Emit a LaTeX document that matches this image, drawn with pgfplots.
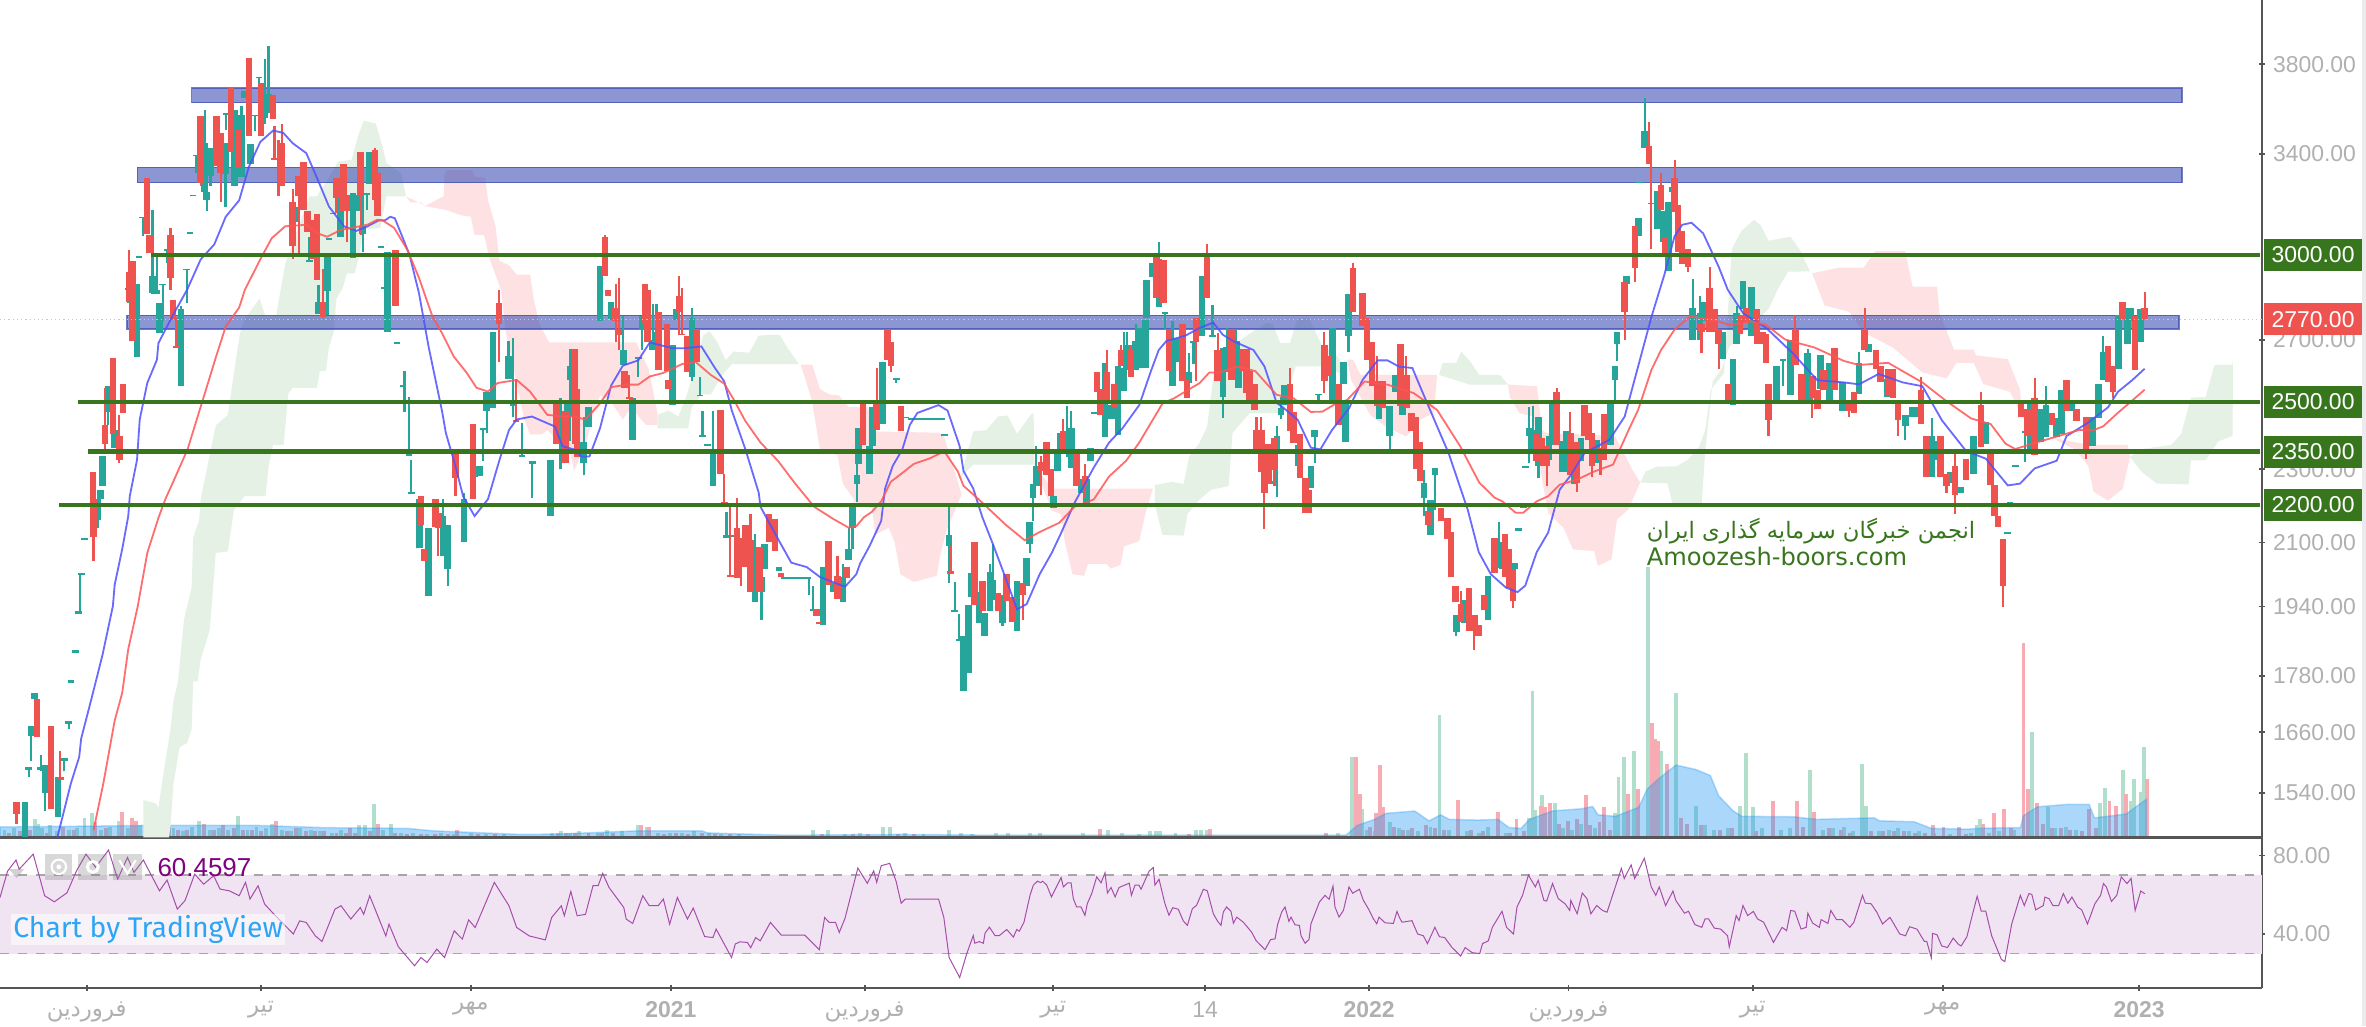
\documentclass[border=0pt]{standalone}
\usepackage{fontspec}
\usepackage{pgfplots}
\usepackage{pgfplotstable}
\pgfplotsset{compat=1.18}
\setmainfont{Liberation Sans}
\newfontfamily\arabicfont[Script=Arabic]{DejaVu Sans}
\newfontfamily\wmfont{DejaVu Sans}
\newfontfamily\tvfont{Fira Sans}
\TeXXeTstate=1
\definecolor{cgreen}{HTML}{26A69A}
\definecolor{cred}{HTML}{EF5350}
\definecolor{gline}{HTML}{38761D}
\definecolor{bandc}{HTML}{3F51B5}
\definecolor{cloudg}{HTML}{E6F1E6}
\definecolor{cloudr}{HTML}{FDE1E3}
\definecolor{volg}{HTML}{B2DFCB}
\definecolor{volr}{HTML}{F8ABB2}
\definecolor{volma}{HTML}{2196F3}
\definecolor{tickgray}{HTML}{B0B0B0}
\definecolor{axisgray}{HTML}{555555}
\definecolor{rsic}{HTML}{A64DAB}
\definecolor{rsifill}{HTML}{F0E4F2}
\definecolor{maB}{HTML}{5050FF}
\definecolor{maR}{HTML}{FF5555}
\definecolor{tvblue}{HTML}{2DA5F5}
\definecolor{rsitxt}{HTML}{800080}

% candle bodies: x top bot
\pgfplotstableread{
x top bot
16.5 1523 1458
19 1590 1584
20.5 1672 1653
23 1743 1730
27 1590 1583
30 1593 1540
38.5 1570 1495
42.6 1608 1602
45.6 1683 1677
47 1770 1764
50 1838 1832
52 1928 1923
54 2022 2017
56 2112 2106
65 2216 2160
66.4 2240 2216
68 2339 2253
71.5 2549 2469
76 2414 2362
85 2879 2873
90.8 2895 2642
92 2996 2990
94.6 3146 3140
101 2921 2862
104 2873 2857
105.5 2826 2722
107.8 2895 2889
110.6 3022 3016
120 2805 2551
123.8 2949 2943
126 3085 3079
128 3232 3226
130 3396 3390
135.7 3445 3244
137 3244 3210
139.5 3426 3306
149.4 3445 3318
150 3576 3570
155.5 3590 3268
160 3570 3303
162 3678 3644
166 3442 3358
169 3570 3564
171.7 3740 3734
175.5 3664 3556
178 3664 3576
196 3185 3126
205 2980 2975
211 2831 2788
217 2994 2868
218 3062 3056
220.6 3161 3155
225.7 3226 3068
234 3238 2988
237 3232 3167
240.4 3108 3078
243 3238 3232
245 3406 3275
252.4 3033 3027
255 2881 2875
256.7 3011 2727
263 2691 2685
267 2554 2548
271 2343 2337
272.5 2237 2231
278 2216 2085
284 2139 1965
293.7 2171 2065
296.7 2145 2033
307.4 2216 2100
314.5 2309 2279
318 2309 2280
320 2419 2413
322.6 2532 2473
326.7 2727 2480
337 2646 2573
340 2506 2488
346 2341 2335
352.8 2322 2316
365 2326 2171
376 2497 2383
378 2613 2568
386.8 2379 2317
390 2485 2423
397.6 2960 2762
405 2831 2768
413 2666 2617
419 2511 2385
423 2644 2638
425.5 2781 2737
432.6 2701 2666
435 2727 2676
445.8 2684 2490
448.3 2806 2768
458.7 2775 2579
464 2522 2517
465.6 2400 2394
469 2374 2368
472.4 2346 2253
481.5 2119 2113
486 2120 2114
500.3 1975 1950
504.6 2012 1975
506.6 2096 2033
516.3 2038 2027
520 2012 2007
524 2012 2007
528 2012 2007
532 2012 2007
535 2012 2007
539 1935 1930
545.5 2038 1895
552 1997 1975
558.6 2012 1950
562.4 2082 2055
565 2195 2139
568 2283 2259
569 2419 2315
576.4 2366 2287
578.2 2483 2366
584.8 2627 2432
594 2575 2570
600 2455 2450
604 2450 2445
608 2450 2445
612 2450 2445
616 2450 2445
620 2450 2445
624 2450 2445
626 2401 2395
629 2120 2092
632.7 1931 1926
635.5 1864 1859
638.5 1870 1747
642 1944 1786
644 2021 1962
648.7 1975 1900
652.5 1925 1870
656 2025 1928
658 2005 1957
664.4 1968 1900
674 2001 1882
680.4 2061 1990
682.4 2155 2096
684.7 2259 2220
686.7 2309 2253
698 2224 2193
700.7 2357 2294
703 2405 2357
707 2392 2348
710 2419 2304
716.4 2272 2233
720 2272 2195
722.7 2362 2323
725 2469 2463
732.4 2622 2392
736.4 2490 2446
741 2614 2398
745 2608 2535
747 2681 2602
752.7 2696 2602
755.7 2739 2607
759 2768 2607
760 2907 2775
763.6 2971 2919
768 2985 2813
772 2794 2788
777 2696 2551
780 2706 2627
788 2593 2560
791 2696 2690
796.5 2921 2712
803.6 2715 2709
810.4 2672 2515
813 2676 2602
819.3 2696 2586
820.6 2597 2544
842.1 2265 2259
846.4 2397 2346
849 2480 2460
851 2554 2491
860.6 2370 2309
868.7 2309 2247
871.3 2414 2392
873.8 2525 2520
883 2740 2506
890.5 2627 2557
891.5 2506 2380
893.6 2857 2714
914 2495 2446
921 2488 2396
924.5 2585 2532
929.6 2515 2460
943.6 2262 2220
948 2215 2120
951 2304 2283
965.1 1919 1879
970.7 1957 1901
986 2015 1907
993.5 2090 2045
995.5 2100 2031
1004 2047 2032
1006.5 2137 2131
1009.5 2199 2193
1010.8 2310 2304
1013.3 2420 2396
1015.8 2414 2348
1019.6 2455 2309
1026.5 2395 2326
1028.5 2502 2370
1035.4 2383 2293
1038 2410 2293
1043 2309 2258
1047.8 2390 2322
1058.4 2385 2317
1067.3 2495 2370
1070.4 2612 2568
1071.6 2725 2686
1078 2921 2895
1086 3142 3069
1086.5 3284 3278
1090 3498 3426
1098.5 3247 3096
1102.4 3167 3050
1105.6 3202 2942
1108 3262 3244
1121.8 2810 2700
1126.7 2790 2700
1129.3 2831 2763
1141.9 2725 2637
1148.4 2637 2490
1151 2790 2686
1155 2906 2805
1160.7 2884 2712
1177.5 2612 2507
1181.7 2637 2631
1186.6 2699 2520
1198 2656 2506
1206.6 2651 2540
1212.5 2624 2507
1221.2 2561 2472
1232 2624 2525
1238.4 2686 2661
1250.7 2573 2515
1262.6 2460 2425
1267.5 2483 2455
1270.7 2483 2455
1280.4 2396 2279
1283.7 2383 2326
1292.7 2291 2260
1299.2 2250 2233
1308 2396 2287
1316 2437 2374
1330.6 2127 2121
1332 2208 2202
1335.5 2311 2305
1342 2410 2405
1345.2 2507 2357
1352.6 2478 2379
1356 2490 2392
1363 2449 2392
1366.2 2538 2403
1372.7 2502 2472
1386.6 2455 2366
1390.5 2555 2449
1393.7 2661 2568
1404 2783 2605
1410 2810 2686
1412.2 2810 2763
1418.4 2805 2693
}\gbody
\pgfplotstableread{
x top bot
11 1523 1500
24.6 1730 1650
33.7 1672 1509
40 1570 1564
61.6 2292 2216
62 2216 2115
69.5 2428 2374
75 2640 2401
79 2396 2326
81.4 2556 2465
85.7 2938 2831
88 2977 2696
97.4 3300 3079
99 3073 3005
113 3073 2916
114.6 2836 2768
117 2679 2673
133 3563 3281
143.3 3563 3350
146.3 3490 3320
153 3688 3406
157.8 3503 3344
165 3828 3477
173 3711 3477
181 3657 3549
182 3382 3376
184.6 3382 3376
187 3448 3268
194 3202 3033
198 3306 3226
201 3365 3173
203.6 3167 3087
207.5 3131 2983
210 3155 2908
214 2831 2778
223 3300 3220
227.5 3358 3167
230 3232 3167
239 3406 3226
248.5 3417 3210
250 3320 3149
262 3017 2817
279 2224 2147
281 2082 2053
288.4 2216 2141
290.4 2179 2139
301.8 2357 2275
313.5 2432 2216
330.7 2826 2752
342 2443 2437
369 2502 2374
374.6 2473 2317
381 2671 2374
382.4 2540 2335
401 3068 2921
403 2873 2852
408 2810 2763
410 2737 2717
414 2598 2544
417 2515 2510
427.5 2895 2752
429 2873 2691
436.4 2794 2602
442 2752 2598
443 2568 2540
450 2850 2794
452 2720 2715
455.4 2714 2593
461.8 2732 2627
477.5 2474 2287
480 2208 2202
484 2017 2012
488.4 2139 2009
491 2112 2053
494 2147 2038
497.3 2106 1975
503.4 2088 1975
509.7 2175 2100
513.5 2162 2078
517.6 2021 2012
541 1933 1916
542.7 1903 1898
549 2104 1993
555 2015 1959
561 2038 2010
572 2506 2371
581 2495 2415
588.3 2737 2632
590.4 2693 2615
597 2488 2410
630 2026 2020
646 2100 1943
651 2001 1928
661.4 1972 1928
667 2019 1953
671 1964 1903
678 1997 1968
690 2319 2294
693.6 2378 2283
696.4 2300 2224
704.5 2411 2357
713.6 2351 2253
719 2280 2255
727 2593 2530
729.3 2540 2461
733.6 2595 2492
738.7 2557 2483
743 2666 2614
749.6 2666 2578
766 2994 2844
771 2981 2826
774.7 2732 2598
783.6 2752 2564
786.6 2568 2511
792.7 2775 2691
800 3005 2842
807 2666 2564
816 2732 2568
823.6 2671 2598
826 2671 2527
828 2598 2506
831.2 2557 2475
832.7 2414 2346
835.8 2414 2293
837.8 2370 2233
840.3 2374 2258
844.7 2390 2298
854.8 2557 2410
857.3 2470 2375
861.6 2401 2275
865 2274 2179
867.5 2242 2179
877.6 2681 2564
880 2646 2580
887 2557 2430
896.6 2951 2796
903 2862 2745
906 2773 2634
909.3 2691 2549
912.6 2564 2486
916.4 2564 2480
928.3 2686 2486
932 2585 2480
935.4 2465 2410
938.5 2455 2300
941 2380 2266
946.6 2183 2147
955 2191 2156
959.3 2165 2110
961.6 2127 2012
964.4 1990 1950
968.2 1946 1903
973.5 1986 1883
977 1919 1883
979.8 1896 1871
984 1968 1932
990.5 2113 2023
997.3 2123 2012
1000 2082 1986
1002.6 2032 1954
1018 2403 2322
1022 2390 2309
1025 2366 2309
1031.6 2532 2370
1040.7 2405 2283
1045 2380 2261
1050 2491 2395
1052.6 2465 2385
1055 2405 2309
1060.7 2362 2326
1063 2464 2326
1076.7 2902 2796
1083.6 3110 2950
1092.7 3435 3358
1094.3 3200 3194
1100.8 3270 3173
1103.4 3062 3003
1109.8 3300 3164
1112 3193 3011
1114.7 3090 2966
1118.6 3023 2955
1127.6 2752 2727
1133.1 2878 2725
1136.4 2805 2725
1139 2732 2686
1145.4 2555 2495
1153.2 2783 2718
1157.4 2810 2758
1164.5 2805 2686
1168 2727 2686
1170.4 2718 2624
1172 2555 2443
1189.8 2732 2617
1194 2588 2495
1201 2580 2513
1204.4 2538 2478
1208.6 2602 2538
1215.7 2674 2538
1225.4 2497 2473
1228.6 2531 2466
1235.8 2738 2667
1243.2 2667 2605
1246.4 2612 2561
1251.3 2605 2520
1254.5 2605 2513
1257.8 2507 2443
1273 2538 2432
1276.5 2396 2279
1286 2396 2279
1290 2287 2253
1295.6 2309 2228
1303 2330 2270
1312.8 2490 2363
1319.3 2358 2254
1321.6 2254 2171
1324 2171 2140
1327.4 2110 1990
1339.4 2507 2455
1343.6 2478 2396
1348.4 2513 2341
1359.8 2466 2428
1369.5 2568 2472
1376 2478 2442
1382.4 2455 2348
1397 2680 2561
1400.2 2612 2530
1406.7 2831 2770
1414.8 2780 2602
1421.3 2810 2770
}\rbody
% wicks: x high low
\pgfplotstableread{
x hi lo
20.5 1672 1601
19 1590 1570
27 1614 1581
30 1593 1505
42.6 1608 1581
45.6 1683 1667
53 2022 1925
65 2216 2139
71.5 2549 2428
85 2879 2826
94.6 3146 3072
101 3172 2857
104 3005 2857
107.8 2895 2763
110.6 3022 2969
120 2815 2551
123.8 2949 2826
130 3396 3320
135.7 3590 3244
137 3244 3167
139.5 3426 3268
149.4 3445 3185
150 3576 3503
160 3610 3303
169 3570 3497
171.7 3740 3576
175.5 3826 3530
178 3887 3576
205 3068 2977
211 2889 2788
217 2994 2783
225.7 3256 3068
240.4 3244 3011
243 3238 3173
268 2598 2469
271 2515 2340
272.5 2326 2234
293.7 2216 2065
296.7 2145 1990
307.4 2233 2100
320 2419 2322
322.6 2532 2405
337 2696 2573
340 2706 2455
346 2435 2338
352.8 2322 2220
371.5 2511 2300
378 2671 2455
386.8 2455 2283
413 2781 2617
423 2644 2579
425.5 2781 2666
432.6 2822 2666
435 2822 2676
458.7 2810 2564
464 2578 2520
465.6 2473 2397
472.4 2473 2253
481.5 2181 2116
500.3 2123 1950
504.6 2012 1907
536 2010 1968
539 1990 1932
558.6 2046 1950
562.4 2139 2055
565 2195 2082
568 2419 2208
594 2575 2560
629 2205 1997
632.7 2000 1928
635.5 1921 1861
656 2046 1928
658 2096 1957
664.4 1968 1893
682.4 2155 2072
684.7 2259 2157
686.7 2366 2253
707 2486 2335
710 2473 2304
745 2727 2535
747 2727 2602
752.7 2752 2602
768 3048 2813
772 2794 2737
777 2765 2551
788 2656 2560
791 2696 2620
803.6 2820 2712
810.4 2672 2451
813 2740 2593
819.3 2732 2586
842.1 2309 2262
846.4 2425 2222
849 2515 2446
871.3 2414 2317
873.8 2525 2497
893.6 2857 2661
921 2488 2352
943.6 2298 2170
951 2304 2187
965.1 1919 1870
993.5 2155 2035
1013.3 2483 2317
1015.8 2488 2348
1019.6 2455 2274
1070.4 2612 2506
1071.6 2725 2629
1090 3643 3426
1121.8 2911 2700
1126.7 2852 2700
1151 2817 2686
1181.7 2637 2549
1198 2671 2506
1232 2661 2525
1262.6 2460 2386
1280.4 2449 2279
1342 2410 2319
1356 2549 2392
1393.7 2712 2568
}\gwick
\pgfplotstableread{
x hi lo
11 1523 1482
40 1622 1564
62 2216 2052
69.5 2544 2352
79 2460 2317
85.7 3018 2831
113 3102 2873
117 2778 2676
133 3563 3268
146.3 3490 3204
182 3520 3381
184.6 3458 3226
187 3530 3268
194 3256 2983
198 3306 2994
214 2949 2773
223 3300 3161
230 3232 3050
239 3406 3073
248.5 3425 3210
290.4 2179 2065
301.8 2357 2224
330.7 2873 2627
342 2573 2440
401 3074 2921
408 2895 2691
410 2916 2666
417 2585 2510
450 2921 2717
452 2878 2717
480 2287 2205
484 2205 2015
488.4 2220 2009
491 2112 1990
497.3 2175 1975
555 2065 1959
581 2608 2415
590.4 2693 2593
630 2092 2023
678 1997 1907
690 2339 2228
704.5 2446 2357
719 2314 2220
733.6 2666 2492
743 2684 2614
749.6 2684 2578
792.7 2775 2564
800 3039 2842
807 2722 2564
832.7 2455 2346
835.8 2455 2293
837.8 2370 2135
844.7 2390 2253
854.8 2607 2410
877.6 2727 2527
896.6 2968 2796
912.6 2646 2486
932 2646 2480
968.2 1979 1903
977 1919 1838
1002.6 2032 1936
1025 2366 2253
1031.6 2544 2370
1040.7 2470 2283
1045 2380 2236
1055 2405 2278
1060.7 2362 2283
1076.7 2902 2701
1083.6 3110 2902
1092.7 3537 3358
1094.3 3356 3022
1100.8 3320 3173
1109.8 3375 3164
1118.6 3023 2938
1127.6 2752 2656
1133.1 2955 2725
1139 2732 2605
1172 2555 2396
1189.8 2783 2617
1201 2580 2449
1225.4 2497 2455
1235.8 2807 2667
1257.8 2507 2396
1273 2578 2432
1290 2287 2233
1295.6 2348 2175
1312.8 2531 2363
1327.4 2110 1939
1348.4 2574 2341
1382.4 2455 2330
1400.2 2612 2511
1421.3 2864 2770
}\rwick

\pgfplotsset{
  hold/.style={forget plot, draw=none, no marks},
  body/.style={hold, error bars/.cd, y dir=plus, y explicit, error mark=none,
    error bar style={draw=#1, line width=2.2pt, line cap=butt}},
  wick/.style={hold, error bars/.cd, y dir=plus, y explicit, error mark=none,
    error bar style={draw=#1, line width=0.75pt, line cap=butt}},
}

\begin{document}
\begin{tikzpicture}
\path[use as bounding box] (0,0) rectangle (784pt,340pt);
\fill[fill=white] (0,0) rectangle (784pt,340pt);
\fill[fill=blue!5!gray!15] (782.5pt,0) rectangle (784pt,340pt);

% volume pane, shares the price pane frame
\begin{axis}[
  at={(0pt,62.5pt)}, anchor=south west,
  scale only axis, width=749.5pt, height=277.5pt,
  xmin=0, xmax=1499, ymin=0, ymax=555,
  axis lines=none, clip=true,
]
\addplot[ycomb, no marks, draw=volg, line width=1.3pt] coordinates {
(3,5)(9,6)(16,4)(23,12)(25,9)(28,6)(33,8)(38,4)(46,5)(51,6)(56,13)(61,16)(67,5)(73,7)(79,11)(85,6)(93,8)(97,6)(103,12)(109,5)(115,6)(121,4)(127,7)(132,11)(139,5)(145,6)(151,5)(158,14)(164,5)(170,7)(176,6)(180,9)(187,5)(193,4)(199,6)(206,5)(212,4)(220,3)(226,5)(232,4)(238,8)(242,8)(248,22)(254,5)(259,9)(266,3)(274,3)(283,2)(292,3)(301,2)(312,3)(322,2)(334,2)(345,1)(360,1)(366,3)(372,4)(378,3)(384,4)(396,3)(402,5)(412,4)(423,8)(429,7)(436,3)(444,3)(452,3)(460,4)(470,3)(478,2)(490,2)(500,1)(518,1)(539,5)(549,5)(560,2)(570,3)(585,7)(590,7)(600,3)(612,2)(629,5)(637,3)(644,2)(660,3)(668,3)(682.6,3)(689,3)(704,1)(718,3)(734.5,5)(743.4,3)(755,2)(762,4)(766,4)(769,4)(779,3)(792.6,5)(796,5)(800,5)(887,3)
(895.7,53)(902.6,19)(906,5)(911,4)(921,10)(927,6)(933,5)(940,4)(948,7)(954,81)(960,5)(972,4)(980,3)(986,7)(998,3)(1013,13)(1015.6,97)(1017.5,18)(1021.6,28)(1030.8,23)(1036,6)(1042,5)(1048,9)(1057,6)(1070,16)(1072.6,40)(1076.4,53)(1083,57)(1092,179)(1101,57)(1110.6,96)(1124,21)(1130,8)(1136,5)(1145,6)(1153,21)(1157.4,56)(1162,20)(1168,6)(1180,5)(1186,6)(1199.3,45)(1208,5)(1215,6)(1222,7)(1228,4)(1234,49)(1236.6,21)(1245,4)(1252,5)(1258,6)(1265,4)(1272,4)(1282,3)(1292,2)(1306,3)(1310,8)(1312,12)(1318,3)(1325,4)(1335,5)(1346.5,70)(1357,20)(1362,6)(1369,7)(1376,5)(1392,23)(1395,33)(1407,45)(1412,24)(1414,39)(1419,30)(1420.7,60)
};
\addplot[ycomb, no marks, draw=volr, line width=1.3pt] coordinates {
(6,3)(13,4)(20,5)(31,3)(42,7)(49,5)(63,10)(70,6)(81,17)(87.5,13)(90,11)(100,7)(106,5)(112,7)(118,5)(124,5)(135,9)(142,5)(148,8)(155,6)(161,5)(167,5)(173,4)(183,11)(190,4)(196,6)(203,4)(209,4)(215,4)(223,3)(229,3)(232,6)(235,3)(245,4)(250.6,9)(262,3)(270,2)(279,2)(288,2)(297,2)(303,5)(317,2)(328,2)(340,1)(370,3)(375,3)(381,3)(390,3)(399,3)(406,3)(425,8)(430,7)(440,2)(448,3)(456,2)(465,3)(474,2)(484,2)(510,1)(530,1)(545,2)(555,1)(565,2)(575,2)(595,2)(606,2)(620,1)(635,1)(650,1)(675,1)(698,1)(712,1)(729,5.5)(750,1)(775,1)(788,2)(802,5.5)(815,1)(840,1)(860,1)(878.7,3)
(898.4,53)(901,29)(908,7)(912,16)(914.4,48)(916.7,20)(924,7)(930,5)(936,6)(945,8)(951,6)(957,5)(966,25)(975,5)(983,4)(992.7,17)(1001,3)(1005,12)(1010,4)(1021,21)(1024,20)(1027,23)(1033,9)(1039,11)(1045,12)(1051,28)(1054,8)(1060,10)(1063,20)(1067,5)(1079,29)(1085.5,32)(1095,76)(1096.5,65)(1099,64)(1105,49)(1114,13)(1118,9)(1127,8)(1140,5)(1148,6)(1164,4)(1175,24)(1191,24)(1195,7)(1202,17)(1212,6)(1220,5)(1226,3)(1240,4)(1248,4)(1255,4)(1262,4)(1269,3)(1276,3)(1281,8)(1288,7)(1298,7)(1303,2)(1314,9)(1321.4,16)(1328,19)(1333,6)(1341,129)(1344,32)(1350,23)(1354,9)(1360,6)(1366,6)(1372,5)(1380,4)(1384.5,19)(1389,6)(1398,24)(1402.4,21)(1409,29)(1423,39)
};
\addplot[fill=volma, fill opacity=.38, draw=volma, draw opacity=.3, line width=.5pt] coordinates {
(0,0)(0,7)(60,7.5)(100,8)(130,8)(170,8)(215,6.5)(270,6)(287,4.4)(345,2)(368,2.2)(423,4.4)(465,4.4)(469,3)(520,1.5)(596,2)(663,1.5)(861.5,1.5)(892,1.5)(899.5,8)(911,12)(918.6,16)(937.6,17.5)(947,11)(954.7,15)(960.4,12)(979.4,11.5)(992.7,12)(1000,6.6)(1008,6)(1013.6,12)(1029,17.6)(1048,19)(1055.5,20.5)(1059,15)(1070.7,14)(1086,20)(1091.6,32)(1099,38.7)(1110.6,48)(1124,45)(1133.5,41)(1139,27.6)(1148.6,17.6)(1154.4,14)(1188.6,13.7)(1203.8,12)(1242,13)(1245.7,11)(1268.5,10.4)(1280,6)(1304.6,5.5)(1310,6)(1339,6.6)(1341,14.4)(1350.3,20.3)(1371,22)(1384.5,22)(1388,13)(1409,15.5)(1422.5,25.4)(1422.5,0)
} --cycle;
\end{axis}

% price pane
\begin{axis}[
  at={(0pt,62.5pt)}, anchor=south west,
  scale only axis, width=749.5pt, height=277.5pt,
  xmin=0, xmax=1499, ymode=log, ymin=1457, ymax=4115,
  axis x line=bottom, axis y line=right,
  axis line style={-, draw=axisgray, line width=.75pt},
  xtick=\empty,
  ytick={1540,1660,1780,1940,2100,2300,2700,3400,3800},
  yticklabels={1540.00,1660.00,1780.00,1940.00,2100.00,2300.00,2700.00,3400.00,3800.00},
  minor y tick num=0, major tick length=2pt,
  tick style={draw=axisgray, line width=.6pt},
  yticklabel style={font=\fontsize{7.6}{8}\selectfont, text=tickgray, anchor=west, inner sep=0pt, xshift=2.5pt},
  clip mode=individual,
]
% cloud
\addplot[fill=cloudg, draw=none, forget plot] coordinates {
(95,1457)(95,1526)(103,1520)(105,1512)(109,1590)(113,1666)(115,1727)(118,1768)(122,1910)(127,1986)(128,2112)(132,2159)(133,2216)(143,2428)(151,2460)(156,2622)(159,2722)(162,2768)(172,2842)(176,2778)(183,2783)(189,2966)(198,3108)(205,3226)(210,3226)(221,3332)(224,3368)(233,3375)(237,3470)(241,3543)(249,3530)(254,3420)(256,3362)(266,3318)(269,3226)(256,3226)(252,3102)(241,3096)(238,2994)(235,2932)(230,2932)(227,2878)(223,2842)(221,2722)(218,2676)(216,2598)(212,2598)(210,2544)(194,2544)(191,2525)(188,2370)(181,2370)(178,2309)(176,2224)(162,2224)(155,2187)(151,2077)(143,2073)(139,1885)(137,1861)(133,1817)(131,1768)(128,1768)(127,1666)(124,1638)(119,1629)(115,1558)(113,1478)(112,1457)
} --cycle;
\addplot[fill=cloudr, draw=none, forget plot] coordinates {
(269,3226)(272,3202)(279,3202)(281.5,3187)(294,3226)(294.7,3318)(296.7,3332)(313,3332)(314.5,3306)(321.6,3300)(323.4,3210)(328.4,3108)(331,2977)(337.3,2962)(342.4,2927)(351.3,2927)(353.8,2836)(357.6,2752)(364,2691)(397.6,2691)(421.7,2691)(430,2602)(435.6,2469)(435.6,2430)(428,2430)(418,2483)(412.8,2446)(404,2506)(397.7,2520)(393,2460)(388,2366)(380.4,2296)(378,2346)(362.7,2414)(359,2401)(351.3,2401)(347.5,2446)(342.4,2559)(335,2732)(332,2873)(324.6,2983)(320.8,3075)(314.5,3075)(312,3145)(305.6,3151)(295.5,3172)(281.5,3187)(279,3197)
} --cycle;
\addplot[fill=cloudg, draw=none, forget plot] coordinates {
(435.6,2419)(435.6,2460)(443,2473)(449.6,2455)(454.7,2515)(458.4,2573)(466,2714)(470,2729)(475,2696)(481,2632)(486,2661)(496.5,2657)(502.8,2714)(511.7,2717)(516.8,2717)(522,2672)(529.5,2620)(485,2620)(478.8,2585)(471,2523)(465,2523)(458.4,2483)(456,2419)
} --cycle;
\addplot[fill=cloudr, draw=none, forget plot] coordinates {
(530.7,2618)(538.3,2618)(543.4,2540)(549.8,2523)(556,2520)(562.4,2484)(575,2484)(580,2410)(623,2406)(625.8,2392)(637.3,2229)(627,2128)(623,2065)(620.8,2015)(605.6,2000)(596.7,2019)(593,2100)(589,2139)(580,2120)(578,2191)(567.5,2205)(558.6,2259)(555,2340)(543.4,2357)(538,2506)
} --cycle;
\addplot[fill=cloudg, draw=none, forget plot] coordinates {
(637,2283)(645,2410)(653.8,2414)(661.4,2455)(667.7,2458)(674,2403)(683,2460)(685,2466)(685.5,2313)(645,2313)(637,2278)
} --cycle;
\addplot[fill=cloudr, draw=none, forget plot] coordinates {
(685.5,2313)(697,2245)(764,2245)(759,2176)(755,2104)(745,2090)(742.5,2042)(736,2033)(733.6,2045)(721,2045)(718.4,2015)(710.8,2019)(705.7,2101)(703,2176)(697,2185)
} --cycle;
\addplot[fill=cloudg, draw=none, forget plot] coordinates {
(765.4,2255)(776.8,2264)(784.4,2258)(788,2335)(795,2377)(800,2425)(805,2612)(808,2646)(827,2717)(839.6,2757)(843.4,2754)(848.5,2689)(854.8,2689)(860,2773)(867.5,2773)(876.4,2678)(886.5,2645)(894,2580)(876.4,2612)(858.6,2612)(849.7,2465)(828,2465)(816.8,2405)(814.2,2252)(802.8,2242)(795,2215)(787,2176)(784.4,2118)(770.4,2120)(765.4,2200)
} --cycle;
\addplot[fill=cloudr, draw=none, forget plot] coordinates {
(892.8,2634)(896.6,2634)(901.7,2585)(952.4,2585)(951,2506)(950,2465)(941,2445)(932,2395)(918,2425)(908,2460)(895.4,2569)
} --cycle;
\addplot[fill=cloudg, draw=none, forget plot] coordinates {
(953.7,2585)(956,2624)(965,2624)(968.4,2661)(975,2624)(980.3,2585)(994,2585)(999.4,2554)(974,2554)
} --cycle;
\addplot[fill=cloudr, draw=none, forget plot] coordinates {
(999.4,2554)(1018.4,2549)(1019.7,2506)(1022,2414)(1024.7,2405)(1048.8,2401)(1070.4,2395)(1081.8,2298)(1087,2262)(1079,2187)(1071.6,2161)(1068,2057)(1059,2040)(1056.4,2078)(1042.5,2082)(1036.1,2139)(1026,2179)(1022,2270)(1016,2455)(1007,2465)(1000.6,2515)
} --cycle;
\addplot[fill=cloudg, draw=none, forget plot] coordinates {
(1087,2262)(1090.6,2293)(1098,2307)(1111,2308)(1118.6,2327)(1126.2,2366)(1130,2414)(1133.8,2538)(1142.6,2591)(1147.7,3022)(1154,3090)(1162.3,3133)(1167,3111)(1172,3053)(1186.6,3068)(1193,3017)(1199.5,2939)(1185,2938)(1178.5,2878)(1172,2805)(1146,2676)(1141,2605)(1135,2564)(1130,2348)(1127.6,2194)(1109,2194)(1105,2260)
} --cycle;
\addplot[fill=cloudr, draw=none, forget plot] coordinates {
(1201,2932)(1219,2953)(1235,2953)(1243,3014)(1262.6,3014)(1267.5,2884)(1283.7,2884)(1285.3,2790)(1295,2667)(1308,2667)(1309.6,2648)(1330.6,2636)(1338.7,2538)(1340,2455)(1332.2,2531)(1314.4,2556)(1308,2624)(1296.6,2624)(1290,2574)(1274,2593)(1254.5,2674)(1235,2725)(1225.4,2796)(1209.2,2817)
} --cycle;
\addplot[fill=cloudr, draw=none, forget plot] coordinates {
(1340,2455)(1360,2392)(1384,2370)(1410,2370)(1411.6,2335)(1406.7,2244)(1397,2212)(1387.3,2237)(1384,2309)(1375,2357)(1345,2425)
} --cycle;
\addplot[fill=cloudg, draw=none, forget plot] coordinates {
(1411.6,2335)(1419.6,2358)(1439,2370)(1445.5,2403)(1452,2513)(1461.7,2515)(1467.5,2617)(1479.5,2617)(1479.8,2642)(1479.6,2397)(1470,2380)(1461.7,2325)(1452,2325)(1450.4,2257)(1429.4,2259)(1419.6,2291)
} --cycle;

% supply and demand bands
\addplot[fill=bandc, fill opacity=.6, draw=bandc, draw opacity=.75, line width=.5pt, forget plot] coordinates {(127,3623)(1446,3623)(1446,3690)(127,3690)} --cycle;
\addplot[fill=bandc, fill opacity=.6, draw=bandc, draw opacity=.75, line width=.5pt, forget plot] coordinates {(91,3281)(1446,3281)(1446,3344)(91,3344)} --cycle;
\addplot[fill=bandc, fill opacity=.6, draw=bandc, draw opacity=.75, line width=.5pt, forget plot] coordinates {(84,2737)(1444,2737)(1444,2783)(84,2783)} --cycle;

% candles
\addplot[wick=cgreen] table[x=x, y=lo, y error plus expr=\thisrow{hi}-\thisrow{lo}] {\gwick};
\addplot[body=cgreen] table[x=x, y=bot, y error plus expr=\thisrow{top}-\thisrow{bot}] {\gbody};
\addplot[wick=cred] table[x=x, y=lo, y error plus expr=\thisrow{hi}-\thisrow{lo}] {\rwick};
\addplot[body=cred] table[x=x, y=bot, y error plus expr=\thisrow{top}-\thisrow{bot}] {\rbody};

% moving averages
\addplot[draw=maB, draw opacity=.85, line width=.6pt, no marks, forget plot] coordinates {
(38,1457)(47,1558)(52.5,1610)(53.8,1647)(61,1735)(68,1828)(74.8,1941)(76,1993)(81,2083)(85,2170)(86,2224)(90.8,2326)(92.6,2446)(97.6,2559)(104,2634)(105,2689)(114,2778)(124,2873)(133,2983)(142,3039)(149.6,3145)(158.5,3210)(165,3347)(172.5,3451)(181,3500)(187.7,3490)(194,3445)(203,3403)(210.5,3294)(218,3185)(228,3108)(236,3090)(243.5,3108)(251,3131)(255,3131)(258.7,3145)(261.7,3139)(271.4,3000)(277.7,2860)(284,2678)(293,2470)(295.5,2405)(301.8,2309)(306.9,2224)(314.5,2170)(323.4,2216)(331,2326)(337.3,2414)(342.4,2446)(352.5,2455)(360,2440)(367.7,2425)(372.8,2366)(380.4,2357)(385.5,2336)(390.6,2336)(397.6,2419)(405,2551)(412.8,2615)(423,2632)(430.6,2691)(445.8,2672)(453.4,2672)(464.8,2678)(473.7,2608)(480,2564)(485,2473)(494,2357)(502.8,2234)(504,2195)(515.5,2110)(524.4,2048)(534.6,2037)(543.4,2012)(560,1988)(567.5,2019)(570,2046)(576.4,2092)(584,2157)(586.5,2245)(591.6,2309)(598,2357)(603,2430)(608,2466)(622,2490)(628,2473)(636,2366)(638.5,2295)(645,2245)(651,2167)(657.6,2100)(666.4,2010)(674,1933)(680.4,1946)(689,2019)(697,2073)(703,2123)(712,2205)(724.8,2304)(735,2377)(743.8,2419)(755,2490)(762.8,2598)(767.9,2666)(773,2696)(785.6,2714)(795,2740)(804,2758)(810.4,2717)(818,2694)(830.7,2666)(838,2612)(846,2497)(851,2480)(860,2445)(868.7,2362)(875,2357)(882.7,2414)(894,2480)(903,2569)(913,2632)(919.5,2632)(927,2612)(936,2607)(942,2538)(952.4,2425)(960,2346)(972.7,2187)(980,2075)(988,2019)(998,1986)(1005.7,1975)(1010.8,1991)(1018.4,2075)(1026,2126)(1033.6,2242)(1041,2283)(1050,2346)(1066.6,2385)(1076.7,2455)(1085.6,2612)(1094.5,2779)(1103,2927)(1109.7,3069)(1114.8,3114)(1121,3122)(1128.7,3081)(1139,2956)(1145,2873)(1155.3,2790)(1170.5,2740)(1188,2656)(1204.4,2568)(1222,2561)(1232,2555)(1245,2588)(1261,2561)(1274,2549)(1287,2443)(1303,2352)(1316,2330)(1330.6,2254)(1338.7,2259)(1348.4,2302)(1363,2324)(1369.5,2396)(1384,2437)(1397,2483)(1403.5,2531)(1413,2568)(1421.3,2605)
};
\addplot[draw=maR, draw opacity=.85, line width=.6pt, no marks, forget plot] coordinates {
(62,1470)(68.5,1558)(76,1684)(81,1743)(85,1840)(91.3,1941)(97.6,2073)(105,2165)(109.6,2216)(115.4,2270)(124.3,2357)(134.4,2506)(143.3,2646)(149.6,2745)(158.5,2810)(162.3,2873)(172.5,2983)(180,3062)(189,3108)(203,3114)(210.5,3081)(216.8,3068)(225.7,3094)(243.5,3114)(249.8,3133)(253.6,3131)(261.2,3102)(270,3018)(277.7,2915)(286.6,2779)(293,2722)(300.5,2646)(309.4,2591)(315.8,2544)(323.4,2532)(329.7,2559)(342.4,2569)(351.3,2532)(362.7,2460)(372.8,2455)(380.4,2455)(388,2446)(397.6,2495)(405,2546)(415.3,2554)(423,2554)(430.6,2580)(439.4,2591)(452,2620)(461,2627)(471,2585)(480,2557)(486.4,2506)(494,2441)(504,2377)(515.5,2324)(527,2259)(539.6,2195)(552.3,2162)(562.4,2139)(567.5,2143)(572.6,2167)(577.7,2181)(584,2210)(590.3,2264)(598,2289)(605.6,2315)(615.7,2330)(625.8,2351)(634.7,2294)(638.5,2253)(648.7,2215)(658.8,2176)(666.4,2147)(679,2106)(689.3,2128)(702,2152)(712,2195)(724.8,2215)(735,2279)(746.3,2324)(755,2377)(770.4,2495)(778,2511)(795,2559)(801.5,2593)(808,2593)(820.6,2612)(832,2597)(846,2522)(857.3,2511)(868.7,2469)(876.4,2470)(884,2491)(892.8,2506)(904.3,2564)(919.5,2554)(937,2527)(952.4,2475)(967.7,2366)(980.3,2262)(990.5,2220)(995.6,2210)(1004.4,2179)(1009.5,2179)(1018.4,2210)(1026,2224)(1033.6,2256)(1045,2270)(1056.4,2293)(1069,2313)(1079.3,2414)(1085.6,2475)(1094.5,2602)(1100.8,2666)(1109.7,2734)(1119.8,2779)(1135,2768)(1146.4,2750)(1160.4,2763)(1170.5,2750)(1183,2701)(1202.7,2674)(1222,2630)(1232,2617)(1251.3,2624)(1274,2561)(1290,2502)(1306.3,2449)(1319.3,2432)(1329,2374)(1335.5,2358)(1351.7,2380)(1377.6,2414)(1387.3,2414)(1393.7,2425)(1403.5,2466)(1413,2504)(1421.3,2538)
};

% horizontal levels
\addplot[draw=gline, line width=1.5pt, forget plot] coordinates {(100,3000)(1498,3000)};
\addplot[draw=gline, line width=1.5pt, forget plot] coordinates {(52,2500)(1498,2500)};
\addplot[draw=gline, line width=1.5pt, forget plot] coordinates {(58,2350)(1498,2350)};
\addplot[draw=gline, line width=1.5pt, forget plot] coordinates {(39,2200)(1498,2200)};
\addplot[draw=cred!45, line width=.4pt, densely dotted, forget plot] coordinates {(0,2770)(1499,2770)};

\tikzset{lvl/.style={fill=#1, text=white, anchor=west, inner sep=0pt, minimum width=32.5pt, minimum height=10.6pt, font=\fontsize{7.6}{8}\selectfont}}
\node[lvl=gline] at (axis cs:1500,3000) {3000.00};
\node[lvl=cred] at (axis cs:1500,2770) {2770.00};
\node[lvl=gline] at (axis cs:1500,2500) {2500.00};
\node[lvl=gline] at (axis cs:1500,2350) {2350.00};
\node[lvl=gline] at (axis cs:1500,2200) {2200.00};
\node[anchor=west, inner sep=0pt, text=gline, font=\arabicfont\fontsize{7.5}{9}\selectfont] at (axis cs:1091,2130) {\beginR انجمن خبرگان سرمایه گذاری ایران\endR};
\node[anchor=west, inner sep=0pt, text=gline, font=\wmfont\fontsize{8}{10}\selectfont] at (axis cs:1091,2065) {Amoozesh-boors.com};
\end{axis}

% RSI pane
\begin{axis}[
  at={(0pt,12.5pt)}, anchor=south west,
  scale only axis, width=749.5pt, height=50pt,
  xmin=0, xmax=1499, ymin=12.3, ymax=89.2,
  axis x line=bottom, axis y line=right,
  axis line style={-, draw=axisgray, line width=.75pt},
  xtick={57.5,173,312,444.6,573,698,798.6,907.3,1039.5,1161.6,1287.5,1417.6},
  xticklabels={
    {\arabicfont\beginR فروردین\endR},{\arabicfont\beginR تیر\endR},{\arabicfont\beginR مهر\endR},
    {\bfseries 2021},{\arabicfont\beginR فروردین\endR},{\arabicfont\beginR تیر\endR},14,
    {\bfseries 2022},{\arabicfont\beginR فروردین\endR},{\arabicfont\beginR تیر\endR},{\arabicfont\beginR مهر\endR},{\bfseries 2023}},
  ytick={40,80}, yticklabels={40.00,80.00},
  major tick length=2pt,
  tick style={draw=axisgray, line width=.6pt},
  yticklabel style={font=\fontsize{7.6}{8}\selectfont, text=tickgray, anchor=west, inner sep=0pt, xshift=2.5pt},
  xticklabel style={font=\fontsize{7.6}{8}\selectfont, text=tickgray, inner sep=0pt, yshift=-3.2pt},
  clip mode=individual,
]
\addplot[fill=rsifill, draw=none, forget plot] coordinates {(0,30)(1499,30)(1499,70)(0,70)} --cycle;
\addplot[draw=gray!70, line width=.45pt, dashed, forget plot] coordinates {(0,70)(1499,70)};
\addplot[draw=gray!70, line width=.45pt, dashed, forget plot] coordinates {(0,30)(1499,30)};
\addplot[draw=rsic, line width=.33pt, no marks, forget plot] coordinates {
(0,58.6)(5,72)(10.6,77.7)(12.7,73)(22,80.7)(29.6,59.5)(36,56.4)(44.4,61)(50.7,72.2)(57,80.7)(63.4,74)(71.9,82.8)(78,68)(84.5,79)(88.8,71.4)(95,77.7)(105.7,62)(110.7,67.5)(117.5,52.7)(122.6,57)(129,70.5)(135,65.4)(141.6,69.7)(145.8,62.9)(152,62)(158.5,59.5)(162.7,66.3)(165.7,57.8)(171,64.6)(175.4,55.2)(181.7,50)(194.4,40)(198.6,46.7)(202.9,45.9)(209,39)(213.4,36.2)(222,52.7)(226,54.4)(232.5,47.6)(238.8,53.5)(241,50)(245,59.5)(255.7,39)(257.8,45)(264,33.5)(274.7,23.8)(279,28)(283,25.5)(289.5,32.3)(294.6,28)(301,41.6)(306.4,37.4)(310.6,47.2)(314.9,43.3)(327.6,66.3)(337.3,54.4)(342.4,43.3)(350.8,39)(361.4,37)(365.6,48.4)(372,54.4)(374,49.3)(378.3,61.7)(382.5,49.3)(388,50)(393,64.6)(396.4,64.6)(399.4,70.9)(403.6,63.7)(413.4,53.5)(415,47.6)(419.3,45.4)(426,59.5)(430.3,54.4)(436.2,54.4)(439.6,57.8)(443.8,45)(448.9,58.6)(455.6,47.6)(459.4,53.2)(467,38.7)(472.5,38.2)(474.6,42.5)(484.8,28)(487.3,34.9)(490.3,36)(495.3,35.7)(497.5,33)(500.8,38.2)(503.8,36.5)(510.6,45.9)(517.8,39.4)(533.4,39.4)(543,32)(546.5,48.4)(549.5,45.9)(553.7,45.9)(556.2,40.8)(560,48)(568.5,73.6)(574.8,65.8)(579,72.2)(581,66.3)(584,74.8)(589.6,76)(593.8,67)(597.2,55.7)(600,57.8)(622,57.8)(625.5,48.4)(629,28)(636,17.8)(640.6,29.8)(645,39.2)(646,35.3)(649,36.1)(651.7,35.3)(652.8,40.4)(655.7,43.5)(659.4,39.2)(662.3,39.2)(667.2,42.3)(671.6,38.4)(673.8,42.3)(675.5,41.4)(678.6,46)(682.6,59.7)(684.8,64.9)(687.5,66.9)(689.7,66.2)(691,66.9)(693.7,64.9)(696.8,58.9)(703.2,68.8)(704.7,64)(707.6,66.1)(709.8,66.1)(711.3,58)(713.5,53.8)(716.4,53.8)(719,49.5)(720.6,55.5)(723.5,60.6)(726.8,69.1)(729.7,66.1)(732.3,71.2)(733.9,60.9)(736.3,63.7)(739,58.9)(741.6,63.7)(748.4,65.9)(749.8,59.7)(752.2,64.9)(754.8,64.9)(756.2,62.8)(761.5,72)(764.3,73.9)(765.4,64.9)(768.1,67.9)(772,55.5)(774.7,49.5)(777.2,53.4)(780.9,52.6)(784.2,46.6)(786.9,44.4)(790.2,52.9)(793,54.6)(797.5,62.8)(800.1,62)(804.1,50.3)(807,46.4)(809.2,44.4)(810.7,51.2)(812.9,53.8)(815.8,51.5)(817.4,45.5)(819.6,48.6)(824,46)(829.5,40.9)(832.4,36.7)(838.3,32)(842.1,37.2)(845,37.5)(846.7,44.9)(849.4,51.2)(851.6,53.8)(854.2,46.4)(855.6,48.6)(858.2,44.7)(861.1,44.4)(862.2,39.2)(864.9,35.3)(867.5,37.2)(868.8,45.2)(874.4,56.3)(878.1,59.7)(880.8,57.7)(883.4,64.4)(884.7,53.8)(887.4,48.6)(890.3,52)(894,64)(896.4,60.8)(900.9,62.8)(903.5,57.2)(906.8,52.9)(910.1,47.8)(912.4,45.2)(913.9,48.6)(917.9,45.7)(923.4,45.4)(925.8,51.5)(927.8,47.8)(929.2,46)(935.7,46.8)(939.5,40)(943.3,39.1)(946,35.1)(950.9,43.4)(954,38.6)(957.4,38.2)(962.3,33.1)(968,28.8)(971,33.1)(975.6,30.5)(980.6,30)(982.5,35.1)(986.3,36.5)(989,43.4)(995.4,51.6)(998.4,43.4)(1003,40)(1005.3,53.7)(1009,59.7)(1012.9,70)(1017.5,64)(1019.4,67.4)(1023.2,57.1)(1025,56.8)(1028.9,65.7)(1032.7,58)(1037.2,55.4)(1040.3,52)(1041,57.1)(1045.2,50.3)(1048.6,60.9)(1051.7,58)(1054.3,50.3)(1058.2,54.5)(1062,52)(1065,51.1)(1074.5,73.4)(1076.4,68.3)(1081,75.2)(1083.3,68.3)(1089.7,78.6)(1094.3,64)(1097.3,59.7)(1099.6,64)(1103.8,54.5)(1108.7,61.9)(1110.6,57.1)(1116.3,50.6)(1119,51.6)(1123.2,44.8)(1127.8,43.4)(1130,47.7)(1132.3,47.7)(1136.1,43)(1140.3,42.5)(1144.9,39.1)(1146,33.4)(1150.6,49.4)(1152.5,46.8)(1155.1,54.5)(1158.2,49.4)(1162,51.5)(1164.7,47.7)(1168.8,46)(1175.3,35.7)(1181,43.4)(1184,41.7)(1186.7,52)(1189.4,51.6)(1193.6,42.5)(1197,43.4)(1198.1,50.6)(1201.2,45.6)(1205.7,43.4)(1206.9,47.3)(1211.4,45.4)(1213.3,52)(1217.1,47.3)(1220.9,47.3)(1225.9,43.4)(1228.6,46)(1234.3,59.7)(1236.2,55.7)(1240,55.4)(1243.8,51.1)(1247.6,45.1)(1252.5,48.5)(1259,40)(1262.8,39.1)(1265.5,43.7)(1270.4,42.5)(1275.3,36.2)(1276.9,36.2)(1279.9,27.9)(1280.7,40.3)(1283.7,39.6)(1286.8,33.9)(1290.6,33.1)(1294.4,37.9)(1297.8,34.8)(1299.7,33.9)(1303.5,38.6)(1307.3,50.3)(1310.3,59.2)(1313,51.6)(1316,51.6)(1319.9,39.1)(1323.6,32.2)(1326.3,27.1)(1328.6,25.9)(1333.2,45.1)(1338.9,59.7)(1341.5,54.5)(1344.6,60.6)(1346.5,60.2)(1349.1,52.3)(1354.1,54.5)(1355.2,58.8)(1357.9,58)(1360.5,54.5)(1364.3,54.5)(1367.4,60.6)(1370.4,55.7)(1373.1,58.8)(1376.9,53.7)(1379.6,52.3)(1383.4,45.1)(1388.3,55.4)(1392.1,59.7)(1394,65.7)(1395.9,64)(1399.3,56.6)(1402.8,59.7)(1405.8,69.1)(1409.6,65.7)(1412.3,68.3)(1415,52)(1418.7,61.9)(1421.4,60.5)
};
\end{axis}

% study widgets and captions in the RSI pane
\fill[gray, fill opacity=.35] (3pt,52pt) -- (8pt,52pt) -- (5.5pt,49pt) -- cycle;
\fill[gray, fill opacity=.3] (15pt,48.5pt) rectangle (24pt,57pt);
\fill[gray, fill opacity=.3] (26pt,48.5pt) rectangle (35.5pt,57pt);
\fill[gray, fill opacity=.3] (37.5pt,48.5pt) rectangle (47pt,57pt);
\draw[white, line width=.7pt] (19.5pt,52.75pt) circle (2.4pt);
\fill[white] (19.5pt,52.75pt) circle (.8pt);
\draw[white, line width=1pt] (30.75pt,52.75pt) circle (1.8pt);
\draw[white, line width=.7pt] (39.5pt,55pt) -- (42.25pt,50.5pt) -- (45pt,55pt);
\node[anchor=west, inner sep=0pt, text=rsitxt, font=\fontsize{8.6}{10}\selectfont] at (52pt,52.5pt) {60.4597};
\node[anchor=west, inner sep=.6pt, fill=white, fill opacity=.55, text opacity=1, text=tvblue, font=\tvfont\fontsize{9.4}{10}\selectfont] at (3.6pt,32pt) {Chart by TradingView};
\end{tikzpicture}
\end{document}
